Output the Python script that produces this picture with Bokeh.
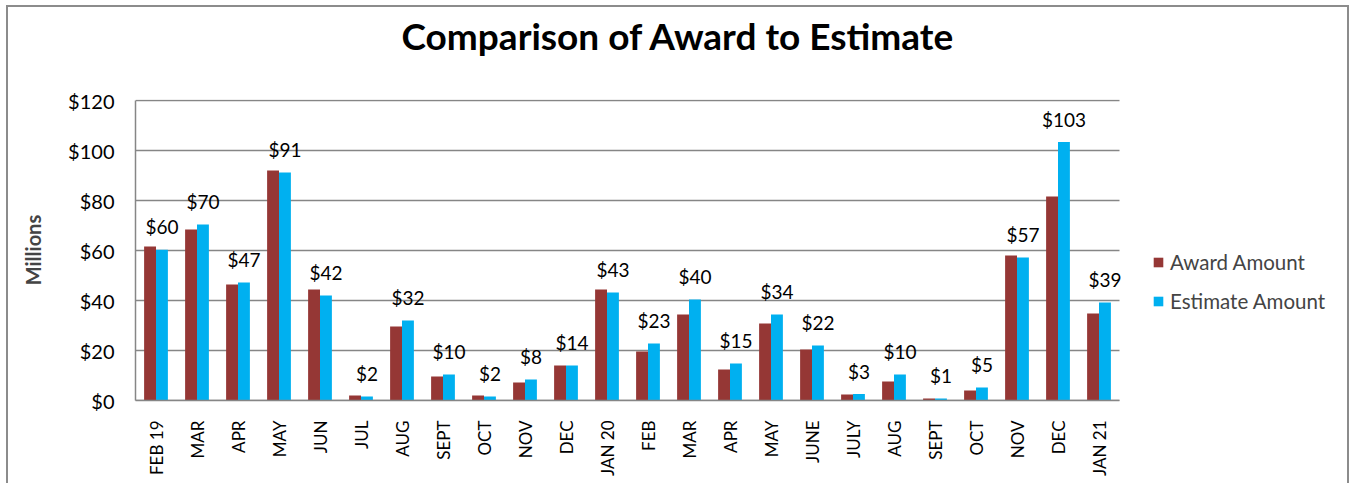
import numpy as np
from bokeh.plotting import figure
from bokeh.models import Range1d, FixedTicker, Legend, LegendItem, ColumnDataSource, Title
from bokeh.core.properties import value
from bokeh.embed import file_html
from bokeh.resources import INLINE
import math

# ---- data ----
months = ["FEB 19", "MAR", "APR", "MAY", "JUN", "JUL", "AUG", "SEPT", "OCT", "NOV", "DEC",
          "JAN 20", "FEB", "MAR", "APR", "MAY", "JUNE", "JULY", "AUG", "SEPT", "OCT", "NOV",
          "DEC", "JAN 21"]
award = [61.6, 68.4, 46.4, 92.0, 44.4, 2.0, 29.6, 9.6, 2.0, 7.2, 14.0,
         44.4, 19.6, 34.4, 12.4, 30.8, 20.4, 2.4, 7.6, 0.8, 4.0, 58.0,
         81.6, 34.8]
estimate = [60.3, 70.4, 47.2, 91.2, 42.0, 1.6, 32.0, 10.4, 1.6, 8.4, 14.0,
            43.2, 22.8, 40.4, 14.8, 34.4, 22.0, 2.6, 10.4, 0.8, 5.2, 57.2,
            103.4, 39.2]
y_ticks = [0, 20, 40, 60, 80, 100, 120]
y_tick_labels = ["$0", "$20", "$40", "$60", "$80", "$100", "$120"]

RED = "#953735"
BLUE = "#00B0F0"
GRID = "#868686"
FONT = "Lato"

n = len(months)
idx = np.arange(n)
BW = 0.29
src = ColumnDataSource(dict(
    xa=idx - BW / 2, xe=idx + BW / 2, award=award, estimate=estimate,
    lab=["$%d" % round(v) for v in estimate],
))

W, H = 1343, 478
BL, BT, BB = 127, 92, 85
frame_w = W - BL
cat_px = 41.0
x_end = -0.5 + frame_w / cat_px

p = figure(width=W, height=H, output_backend="svg", toolbar_location=None,
           x_range=Range1d(-0.5, x_end), y_range=Range1d(0, 120.4),
           min_border_left=BL, min_border_right=0, min_border_top=BT, min_border_bottom=BB)
p.styles = {"margin-left": "6px", "margin-top": "5px",
            "border-top": "2px solid #8c8c8c", "border-left": "2px solid #8c8c8c",
            "border-right": "2px solid #8c8c8c"}
p.outline_line_color = None
p.xgrid.grid_line_color = None
p.ygrid.grid_line_color = None

# horizontal gridlines limited to the category area
p.segment(x0=[-0.5] * len(y_ticks), x1=[n - 0.5] * len(y_ticks), y0=y_ticks, y1=y_ticks,
          line_color=GRID, line_width=1.5)

r1 = p.vbar(x="xa", top="award", width=BW, source=src, fill_color=RED, line_color=None)
r2 = p.vbar(x="xe", top="estimate", width=BW, source=src, fill_color=BLUE, line_color=None)

p.text(x="xe", y="estimate", text="lab", source=src, text_align="center",
       text_baseline="alphabetic", y_offset=-23, text_font=value(FONT),
       text_font_size="19px", text_color="#000000")

# y axis
p.yaxis.ticker = FixedTicker(ticks=y_ticks)
p.yaxis.bounds = (0, 120)
p.yaxis.major_label_overrides = {t: l for t, l in zip(y_ticks, y_tick_labels)}
p.yaxis.axis_label = "Millions"
p.yaxis.axis_label_text_font = FONT
p.yaxis.axis_label_text_font_style = "bold"
p.yaxis.axis_label_text_font_size = "20px"
p.yaxis.axis_label_standoff = 20
p.yaxis.major_label_text_font = FONT
p.yaxis.major_label_text_font_size = "20px"
p.yaxis.major_label_text_color = "#000000"
p.yaxis.major_label_standoff = 21

# x axis
p.xaxis.ticker = FixedTicker(ticks=list(idx))
p.xaxis.bounds = (-0.5, n - 0.5)
p.xaxis.major_label_overrides = {int(i): m for i, m in zip(idx, months)}
p.xaxis.major_label_orientation = math.pi / 2
p.xaxis.major_label_text_font = FONT
p.xaxis.major_label_text_font_size = "17px"
p.xaxis.major_label_text_color = "#000000"
p.xaxis.major_label_standoff = 20

for ax in (p.xaxis, p.yaxis):
    ax.axis_line_color = GRID
    ax.axis_line_width = 1.5
    ax.major_tick_line_color = None
    ax.minor_tick_line_color = None
    ax.major_tick_out = 0
    ax.major_tick_in = 0

# spacer between title and plot area
p.add_layout(Title(text=" ", text_font_size="1px", standoff=39), "above")

# title
p.title.text = "Comparison of Award to Estimate"
p.title.align = "left"
p.title.offset = 266
p.title.standoff = 0
p.title.vertical_align = "bottom"
p.title.text_font = FONT
p.title.text_font_style = "bold"
p.title.text_font_size = "37px"
p.title.text_color = "#000000"

legend = Legend(items=[LegendItem(label="Award Amount", renderers=[r1]),
                       LegendItem(label="Estimate Amount", renderers=[r2])],
                location=(1017, 87), orientation="vertical",
                glyph_width=12, glyph_height=12, label_height=20, spacing=15,
                label_standoff=6, padding=0, margin=0,
                label_text_font=FONT, label_text_font_size="20.5px",
                border_line_alpha=0, background_fill_alpha=0)
p.add_layout(legend, "center")

open("out.html", "w").write(file_html(p, INLINE))
